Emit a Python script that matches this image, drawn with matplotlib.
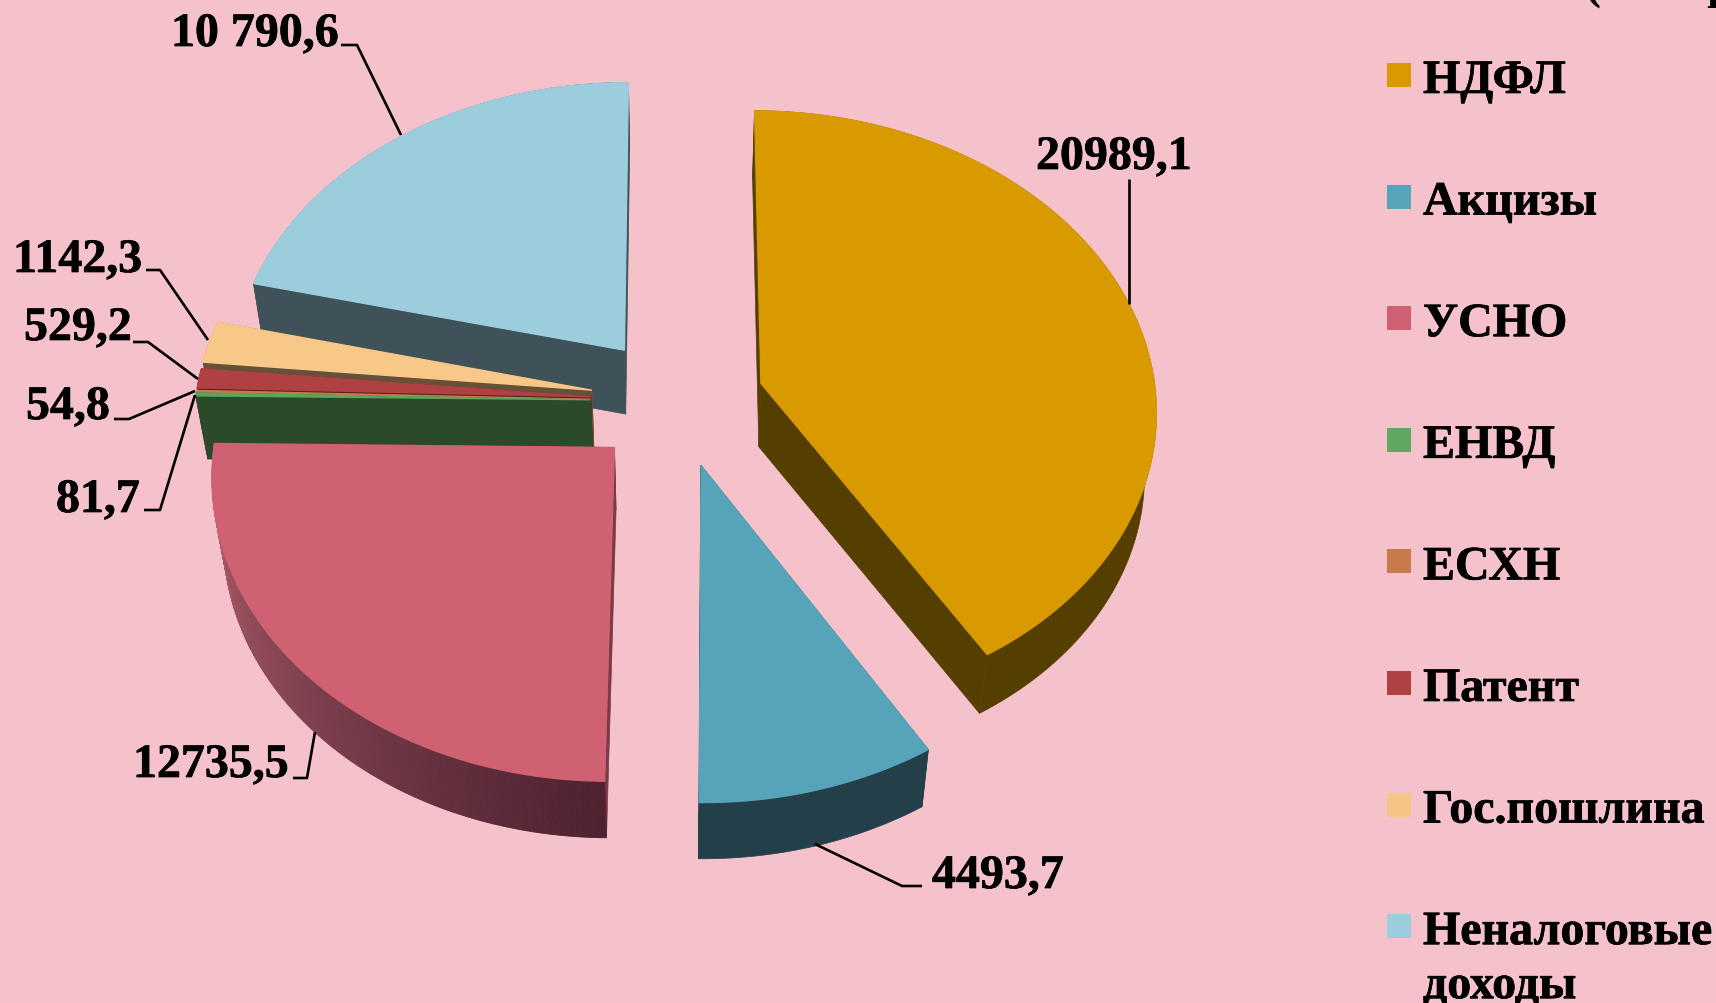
import numpy as np
import matplotlib
matplotlib.use("Agg")
import matplotlib.pyplot as plt
import matplotlib.colors as mcolors
import matplotlib.patheffects as pe

plt.rcParams["font.family"] = ["Liberation Serif", "DejaVu Serif"]

# Data
categories = ["НДФЛ", "Акцизы", "УСНО", "ЕНВД", "ЕСХН", "Патент", "Гос.пошлина", "Неналоговые", "доходы"]
values = [20989.1, 4493.7, 12735.5, 81.7, 54.8, 529.2, 1142.3, 10790.6]
value_labels = ["20989,1", "4493,7", "12735,5", "81,7", "54,8", "529,2", "1142,3", "10 790,6"]

top_colors = ["#D89A00", "#57A3B9", "#D06172", "#5BA55C", "#C97A4A", "#B04142", "#F8C888", "#9CCDDC"]
side_colors = ["#553F00", "#23404A", "#7A3A46", "#2B4A29", "#6E4428", "#5E1E20", "#665038", "#3F5259"]
legend_colors = ["#D89A00", "#57A3B9", "#D06172", "#5FA860", "#C97A4A", "#B04142", "#F5C585", "#9CCDDC"]

BG = "#F5C2CC"
FONT_SIZE = 34.5
bold_stroke = [pe.withStroke(linewidth=0.5, foreground="black")]

# pie projection, in pixels of the 1716x1004 picture
CX, CY = 677.5, 402
RX, RY = 395.5, 298
PERSP = 0.083
EXPLODE = 0.22
DEPTH = 63
SHRINK_X, SHRINK_Y = 0.975, 0.983


def project(wx, wy, bottom=False):
    p = 1 / (1 + PERSP * wy)
    sx = RX * wx * p
    sy = RY * wy * p
    if bottom:
        return CX + sx * SHRINK_X, CY - sy * SHRINK_Y + DEPTH
    return CX + sx, CY - sy


def slice_points(t0, t1, mid, bottom=False, n=200):
    ex = EXPLODE * np.cos(mid)
    ey = EXPLODE * np.sin(mid)
    ts = np.linspace(t0, t1, n)
    ax_, ay_ = project(ex, ey, bottom)
    rx_, ry_ = project(ex + np.cos(ts), ey + np.sin(ts), bottom)
    return (ax_, ay_), rx_, ry_


fig = plt.figure(figsize=(17.16, 10.04), dpi=100, facecolor=BG)
ax = fig.add_axes([0, 0, 1, 1])
ax.set_xlim(0, 1716)
ax.set_ylim(1004, 0)
ax.axis("off")

# start angles go clockwise from the top
fractions = np.array(values) / sum(values)
ends = np.pi / 2 - np.cumsum(fractions) * 2 * np.pi
starts = np.concatenate([[np.pi / 2], ends[:-1]])

# back to front
draw_order = [0, 7, 6, 5, 4, 3, 2, 1]
for i in draw_order:
    t0, t1 = starts[i], ends[i]
    mid = (t0 + t1) / 2
    top_apex, top_x, top_y = slice_points(t0, t1, mid)
    bot_apex, bot_x, bot_y = slice_points(t0, t1, mid, bottom=True)

    # radial faces
    for k in [0, -1]:
        ax.fill(
            [top_apex[0], top_x[k], bot_x[k], bot_apex[0]],
            [top_apex[1], top_y[k], bot_y[k], bot_apex[1]],
            color=side_colors[i], lw=0.5,
        )

    # rim, УСНО has a shaded one
    if categories[i] == "УСНО":
        c_dark = np.array(mcolors.to_rgb("#4E2230"))
        c_light = np.array(mcolors.to_rgb("#B5636F"))
        for j in range(len(top_x) - 1):
            f = (j / (len(top_x) - 1)) ** 1.1
            col = c_dark * (1 - f) + c_light * f
            ax.fill(
                [top_x[j], top_x[j + 1], bot_x[j + 1], bot_x[j]],
                [top_y[j], top_y[j + 1], bot_y[j + 1], bot_y[j]],
                color=col, lw=0.6,
            )
    else:
        ax.fill(
            np.concatenate([top_x, bot_x[::-1]]),
            np.concatenate([top_y, bot_y[::-1]]),
            color=side_colors[i], lw=0.5,
        )

    # top face
    ax.fill(
        np.concatenate([[top_apex[0]], top_x]),
        np.concatenate([[top_apex[1]], top_y]),
        color=top_colors[i], lw=0.9,
    )

# data labels with leader lines
label_pos = [
    (1036, 170),
    (932, 889),
    (133, 778),
    (56, 513),
    (26, 420),
    (24, 341),
    (13, 273),
    (171, 47),
]
leaders = [
    [(1129, 180), (1129, 305)],
    [(815, 845), (902, 887), (922, 887)],
    [(293, 779), (307, 779), (315, 733)],
    [(144, 511), (160, 511), (195, 396)],
    [(114, 420), (129, 420), (195, 392)],
    [(133, 343), (148, 343), (198, 380)],
    [(146, 271), (160, 271), (208, 341)],
    [(341, 46), (357, 46), (401, 136)],
]
for lab, (x, y), line in zip(value_labels, label_pos, leaders):
    ax.text(x, y, lab, ha="left", va="baseline", fontsize=FONT_SIZE, fontweight="bold",
            color="black", path_effects=bold_stroke)
    xs = [pt[0] for pt in line]
    ys = [pt[1] for pt in line]
    ax.plot(xs, ys, color="black", lw=1.9, solid_capstyle="butt")

# legend
legend_x = 1387
legend_y0 = 64
legend_step = 121.6
for i, color in enumerate(legend_colors):
    y = legend_y0 + i * legend_step
    ax.add_patch(plt.Rectangle((legend_x, y), 24, 24, color=color, lw=0))
    ax.text(1423, y + 30, categories[i], ha="left", va="baseline", fontsize=FONT_SIZE,
            fontweight="bold", color="black", path_effects=bold_stroke)
# second line of the last entry
ax.text(1423, legend_y0 + 7 * legend_step + 30 + 54, categories[8], ha="left", va="baseline",
        fontsize=FONT_SIZE, fontweight="bold", color="black", path_effects=bold_stroke)

# title runs off the top of the picture
ax.text(1585, -2, "(тыс. руб.)", ha="left", va="baseline", fontsize=FONT_SIZE,
        fontweight="bold", color="black", clip_on=False)

fig.savefig("out.png", dpi=100, facecolor=BG)
